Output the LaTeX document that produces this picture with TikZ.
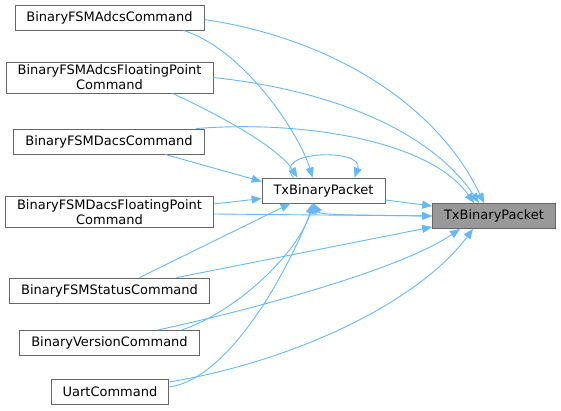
\documentclass[tikz,border=0pt]{standalone}
\usepackage{fontspec}
\setmainfont{DejaVu Sans}
\usepackage{xcolor}
\usetikzlibrary{arrows.meta, positioning}

\definecolor{edgeblue}{HTML}{63B8FF}
\definecolor{boxgray}{HTML}{666666}
\definecolor{rootfill}{HTML}{999999}

\begin{document}
\begin{tikzpicture}[
    x=1pt, y=-1pt,
    arrow/.style={-{Triangle[length=10pt, width=8pt]}, draw=edgeblue, line width=0.9pt}, % Call edges
    fnbox/.style={draw=boxgray, line width=0.8pt, minimum height=25pt,
        inner xsep=11.5pt, inner ysep=3pt, align=center,
        font=\fontsize{13}{15}\selectfont},% Function boxes
    rootbox/.style={fnbox, fill=rootfill}
]
    \useasboundingbox (0,0) rectangle (561,411);

    % Callers column
    \node (c0) [fnbox] at (109.5, 17.5)  {BinaryFSMAdcsCommand};
    \node (c1) [fnbox] at (109.5, 77.5)  {BinaryFSMAdcsFloatingPoint\\Command};
    \node (c2) [fnbox] at (109, 141.5)   {BinaryFSMDacsCommand};
    \node (c3) [fnbox] at (109.5, 212)   {BinaryFSMDacsFloatingPoint\\Command};
    \node (c4) [fnbox] at (109.5, 290.5) {BinaryFSMStatusCommand};
    \node (c5) [fnbox] at (109.5, 343)   {BinaryVersionCommand};
    \node (c6) [fnbox] at (110, 391.5)   {UartCommand};

    % Packet functions
    \node (pkt)  [fnbox]   at (323.5, 190.5) {TxBinaryPacket};
    \node (root) [rootbox] at (494, 216)     {TxBinaryPacket};

    % Calls into the root
    \draw[arrow] ([yshift=-2pt]c0.east) .. controls (340,40) and (440,110) .. ([xshift=-10pt]root.north);
    \draw[arrow] (c1.east) .. controls (330,90) and (430,130) .. ([xshift=-15pt]root.north);
    \draw[arrow] ([xshift=87pt]c2.north) .. controls (300,120) and (430,140) .. ([xshift=-20pt]root.north);
    \draw[arrow] ([yshift=-2pt]c3.east) -- (root.west);
    \draw[arrow] ([xshift=67pt]c4.north) -- ([yshift=-11pt]root.west);
    \draw[arrow] ([xshift=48pt]c5.north) .. controls (250,310) and (400,270) .. ([xshift=-34pt]root.south);
    \draw[arrow] ([yshift=9.5pt]c6.east) .. controls (300,360) and (420,300) .. ([xshift=-21pt]root.south);
    \draw[arrow] ([yshift=-9.5pt]pkt.east) -- ([yshift=10pt]root.west);

    % Calls into the middle packet
    \draw[arrow] ([xshift=74pt]c0.south) .. controls (245,50) and (300,135) .. ([xshift=-11pt]pkt.north);
    \draw[arrow] ([xshift=63pt]c1.south) .. controls (230,120) and (280,150) .. ([xshift=-26pt]pkt.north);
    \draw[arrow] ([xshift=56pt]c2.south) -- ([yshift=9pt]pkt.west);
    \draw[arrow] ([yshift=8pt]c3.east) -- ([yshift=-8pt]pkt.west);
    \draw[arrow] ([xshift=30pt]c4.north) -- ([xshift=-33pt]pkt.south);
    \draw[arrow] ([xshift=72pt]c5.north) .. controls (240,310) and (300,250) .. ([xshift=-11pt]pkt.south);
    \draw[arrow] ([yshift=4.5pt]c6.east) .. controls (220,380) and (275,300) .. ([xshift=-9pt]pkt.south);
    \draw[arrow] (root.west) .. controls (350,215) and (320,215) .. ([xshift=-10pt]pkt.south);
    \draw[arrow] ([xshift=-30pt]pkt.north) .. controls (270,150) and (365,148) .. ([xshift=31pt]pkt.north);

\end{tikzpicture}
\end{document}
